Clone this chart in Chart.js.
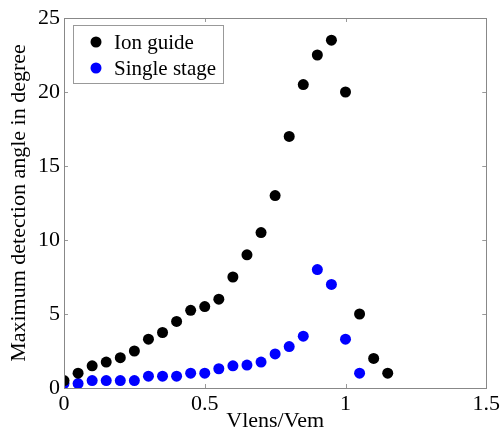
<!DOCTYPE html>
<html>
<head>
<meta charset="utf-8">
<script src="https://cdn.jsdelivr.net/npm/chart.js@4.4.1/dist/chart.umd.min.js"></script>
<style>
html,body{margin:0;padding:0;background:#fff;}
#wrap{width:503px;height:434px;}
</style>
</head>
<body>
<div id="wrap"><canvas id="c" width="503" height="434"></canvas></div>
<script>
const seriesNames = ["Ion guide", "Single stage"];
const xIon = [0,0.05,0.1,0.15,0.2,0.25,0.3,0.35,0.4,0.45,0.5,0.55,0.6,0.65,0.7,0.75,0.8,0.85,0.9,0.95,1.0,1.05,1.1,1.15];
const yIon = [0.5,1.0,1.5,1.75,2.05,2.5,3.3,3.75,4.5,5.25,5.5,6.0,7.5,9.0,10.5,13.0,17.0,20.5,22.5,23.5,20.0,5.0,2.0,1.0];
const xSingle = [0,0.05,0.1,0.15,0.2,0.25,0.3,0.35,0.4,0.45,0.5,0.55,0.6,0.65,0.7,0.75,0.8,0.85,0.9,0.95,1.0,1.05];
const ySingle = [0.3,0.3,0.5,0.5,0.5,0.5,0.8,0.8,0.8,1.0,1.0,1.3,1.5,1.55,1.75,2.3,2.8,3.5,8.0,7.0,3.3,1.0];
const xTicks = [0,0.5,1,1.5];
const yTicks = [0,5,10,15,20,25];
const xTitle = "Vlens/Vem";
const yTitle = "Maximum detection angle in degree";

const FONT = "'Liberation Serif', 'Times New Roman', serif";

function pts(xs, ys){ return xs.map((x,i)=>({x:x,y:ys[i]})); }

const innerTicks = {
  id:'innerTicks',
  afterDatasetsDraw(chart){
    const {ctx, chartArea:a, scales:{x,y}} = chart;
    ctx.save();
    ctx.strokeStyle = '#999';
    ctx.lineWidth = 1;
    const L = 4;
    ctx.beginPath();
    xTicks.forEach(v=>{
      const px = Math.round(x.getPixelForValue(v))+0.5;
      ctx.moveTo(px,a.bottom); ctx.lineTo(px,a.bottom-L);
      ctx.moveTo(px,a.top); ctx.lineTo(px,a.top+L);
    });
    yTicks.forEach(v=>{
      const py = Math.round(y.getPixelForValue(v))+0.5;
      ctx.moveTo(a.left,py); ctx.lineTo(a.left+L,py);
      ctx.moveTo(a.right,py); ctx.lineTo(a.right-L,py);
    });
    ctx.stroke();
    ctx.strokeStyle = '#888';
    ctx.strokeRect(Math.round(a.left)+0.5, Math.round(a.top)+0.5, Math.round(a.right-a.left), Math.round(a.bottom-a.top));
    ctx.restore();
  }
};

const boxLegend = {
  id:'boxLegend',
  afterDraw(chart){
    const {ctx} = chart;
    const bx = 73, by = 25, bw = 150, bh = 58;
    ctx.save();
    ctx.fillStyle = '#fff';
    ctx.fillRect(bx,by,bw,bh);
    ctx.strokeStyle = '#999';
    ctx.lineWidth = 1;
    ctx.strokeRect(bx+0.5,by+0.5,bw,bh);
    ctx.font = "21px " + FONT;
    ctx.textBaseline = 'middle';
    ctx.textAlign = 'left';
    chart.data.datasets.forEach((ds,i)=>{
      const cy = by + 17 + i*26;
      ctx.fillStyle = ds.backgroundColor;
      ctx.beginPath(); ctx.arc(96, cy, 5.5, 0, Math.PI*2); ctx.fill();
      ctx.fillStyle = '#000';
      ctx.fillText(ds.label, 114, cy+1);
    });
    ctx.restore();
  }
};

new Chart(document.getElementById('c'), {
  type:'scatter',
  data:{
    datasets:[
      {label:seriesNames[0], data:pts(xIon,yIon), backgroundColor:'#000000', borderColor:'#000000', pointRadius:5.5, pointHoverRadius:5.5, borderWidth:0},
      {label:seriesNames[1], data:pts(xSingle,ySingle), backgroundColor:'#0000ff', borderColor:'#0000ff', pointRadius:5.5, pointHoverRadius:5.5, borderWidth:0}
    ]
  },
  options:{
    responsive:false,
    animation:false,
    layout:{padding:{top:18, right:15, left:0, bottom:0}},
    plugins:{legend:{display:false}, tooltip:{enabled:false}},
    scales:{
      x:{
        type:'linear', min:0, max:1.5,
        afterBuildTicks(s){ s.ticks = xTicks.map(v=>({value:v})); },
        afterFit(s){ s.height = 46; },
        grid:{display:false, drawTicks:false},
        border:{display:false},
        ticks:{color:'#000', font:{family:FONT, size:22}, padding:3, maxRotation:0,
          callback:v=>String(v)},
        title:{display:true, text:xTitle, color:'#000', font:{family:FONT, size:22}, padding:{top:-4,bottom:0}}
      },
      y:{
        type:'linear', min:0, max:25,
        afterBuildTicks(s){ s.ticks = yTicks.map(v=>({value:v})); },
        afterFit(s){ s.width = 64; },
        grid:{display:false, drawTicks:false},
        border:{display:false},
        ticks:{color:'#000', font:{family:FONT, size:22}, padding:4,
          callback:v=>String(v)},
        title:{display:true, text:yTitle, color:'#000', font:{family:FONT, size:22}, padding:{top:6,bottom:2}}
      }
    }
  },
  plugins:[innerTicks, boxLegend]
});
</script>
</body>
</html>
